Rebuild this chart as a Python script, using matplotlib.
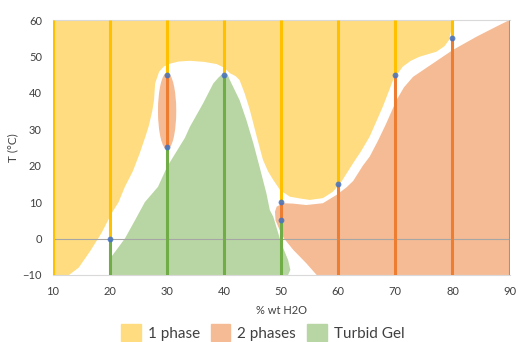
import matplotlib
matplotlib.use('Agg')
import matplotlib.pyplot as plt
from matplotlib.patches import Ellipse, Patch

plt.rcParams['font.family'] = ['Lato', 'DejaVu Sans']

# water content of the samples and the temperatures where they change
one_x = [10, 20, 30, 40, 50, 60, 70, 80]
one_lo = [-10, 0, 45, 45, 10, 15, 45, 55]
one_hi = [60, 60, 60, 60, 60, 60, 60, 60]

two_x = [30, 50, 60, 70, 80, 90]
two_lo = [25, 5, -10, -10, -10, -10]
two_hi = [45, 10, 15, 45, 55, 60]

gel_x = [20, 30, 40, 50]
gel_lo = [-10, -10, -10, -10]
gel_hi = [0, 25, 45, 5]

pts_x = [20, 30, 30, 40, 50, 50, 60, 70, 80]
pts_y = [0, 45, 25, 45, 10, 5, 15, 45, 55]

# hand drawn region outlines
phase1_x = [10, 12.8, 14.5, 16.5, 18.5, 20.3, 21.5, 22.6, 24.0, 25.2, 26.2, 26.8, 27.4,
            27.7, 27.9, 28.6, 29.4, 30.5, 32.0, 34.0, 36.5, 38.7, 40.0, 41.0, 42.0,
            42.7, 43.6, 44.5, 45.7, 46.8, 47.7, 48.6, 49.8, 51.5, 53.3, 55.0, 57.3,
            59.0, 60.3, 62.6, 64.0, 65.5, 67.8, 69.6, 71.3, 72.7, 74.2, 77.2, 78.6,
            79.4, 79.8, 80.0, 79.6, 10]
phase1_y = [-10, -10, -8, -3.5, 1.5, 7, 10, 14.2, 18.5, 23.4, 28, 31, 35,
            38, 42.6, 45.8, 47.2, 48, 48.6, 48.8, 48.5, 47.9, 46.9, 45.4, 44.6,
            43.5, 39.8, 35.3, 28, 21.6, 18.4, 16.1, 13.3, 11.5, 11, 10.6, 11.1,
            12.8, 15, 20.7, 24, 28, 36.2, 43.5, 47.2, 48.8, 49.9, 51.3, 52.8,
            54.5, 57.3, 59, 60, 60]

phase2_x = [48.9, 49.2, 50.3, 52.0, 54.4, 57.3, 59.7, 61.4, 62.6, 64.3, 65.5, 67.0,
            68.4, 70.2, 71.5, 73.1, 76.6, 80.1, 84.2, 87.7, 90, 90, 56.2, 54.4,
            52.1, 50.5, 49.7, 49.0]
phase2_y = [7.4, 8.75, 9.7, 9.6, 9.2, 9.7, 12, 14, 15.8, 20, 22.5, 27,
            31.6, 38, 41.5, 44.4, 48.1, 51.8, 55.4, 58.2, 60, -10, -10, -6.8,
            -3.1, 0, 2.4, 5]

gel_bx = [20, 20, 22.6, 24.4, 26.1, 28.4, 30.0, 33.1, 34.0, 36.3, 38.1, 39.0, 39.5,
          40.1, 40.6, 41.0, 42.7, 43.9, 45.1, 46.2, 47.4, 48.0, 48.6, 50.0, 51.2,
          51.6, 51.2]
gel_by = [-10, -5.5, 0, 5.1, 10, 14.2, 19.7, 27.6, 30.7, 37.1, 42.6, 44.2, 44.9,
          45.4, 45.0, 43.5, 38, 32.5, 26.2, 19.7, 12.4, 7.8, 6, -1.3, -5.9,
          -8.6, -10]

c_one, c_one_line = '#FEDC7F', '#FFC000'
c_two, c_two_line = '#F5BB95', '#ED7D31'
c_gel, c_gel_line = '#B8D6A3', '#70AD47'

fig = plt.figure(figsize=(5.18, 3.42), dpi=100)
ax = fig.add_axes([0.1023, 0.196, 0.8813, 0.7455])

ax.fill(phase1_x, phase1_y, color=c_one, lw=0, zorder=1)
ax.fill(phase2_x, phase2_y, color=c_two, lw=0, zorder=1)
ax.fill(gel_bx, gel_by, color=c_gel, lw=0, zorder=1)
ax.add_patch(Ellipse((30, 35), width=3.2, height=21, color=c_two, lw=0, zorder=1))

ax.axhline(0, color='#A6A6A6', lw=0.8, zorder=2)

ax.vlines(one_x, one_lo, one_hi, color=c_one_line, lw=2.2, zorder=3)
ax.vlines(two_x, two_lo, two_hi, color=c_two_line, lw=2.2, zorder=3)
ax.vlines(gel_x, gel_lo, gel_hi, color=c_gel_line, lw=2.2, zorder=3)
ax.plot(pts_x, pts_y, 'o', color='#4472C4', ms=4.2, mew=0, alpha=0.85, zorder=4)

ax.set_xlim(10, 90)
ax.set_ylim(-10, 60)
ax.set_xticks(range(10, 91, 10))
ax.set_yticks(range(-10, 61, 10))
ax.tick_params(length=0, labelsize=8, labelcolor='#404040', pad=8)
for s in ['left', 'right']:
    ax.spines[s].set_visible(False)
for s in ['top', 'bottom']:
    ax.spines[s].set_color('#D9D9D9')
    ax.spines[s].set_linewidth(0.8)

ax.set_xlabel('% wt H2O', fontsize=8, color='#404040', labelpad=6)
ax.set_ylabel('T (°C)', fontsize=8.5, color='#404040', labelpad=3)

handles = [Patch(color=c_one, label='1 phase'),
           Patch(color=c_two, label='2 phases'),
           Patch(color=c_gel, label='Turbid Gel')]
fig.legend(handles=handles, loc='center', bbox_to_anchor=(0.507, 0.027), ncol=3,
           frameon=False, fontsize=11, handlelength=1.3, handleheight=1.3,
           handletextpad=0.45, columnspacing=0.7, labelcolor='#404040')

fig.savefig('out.png', dpi=100)
